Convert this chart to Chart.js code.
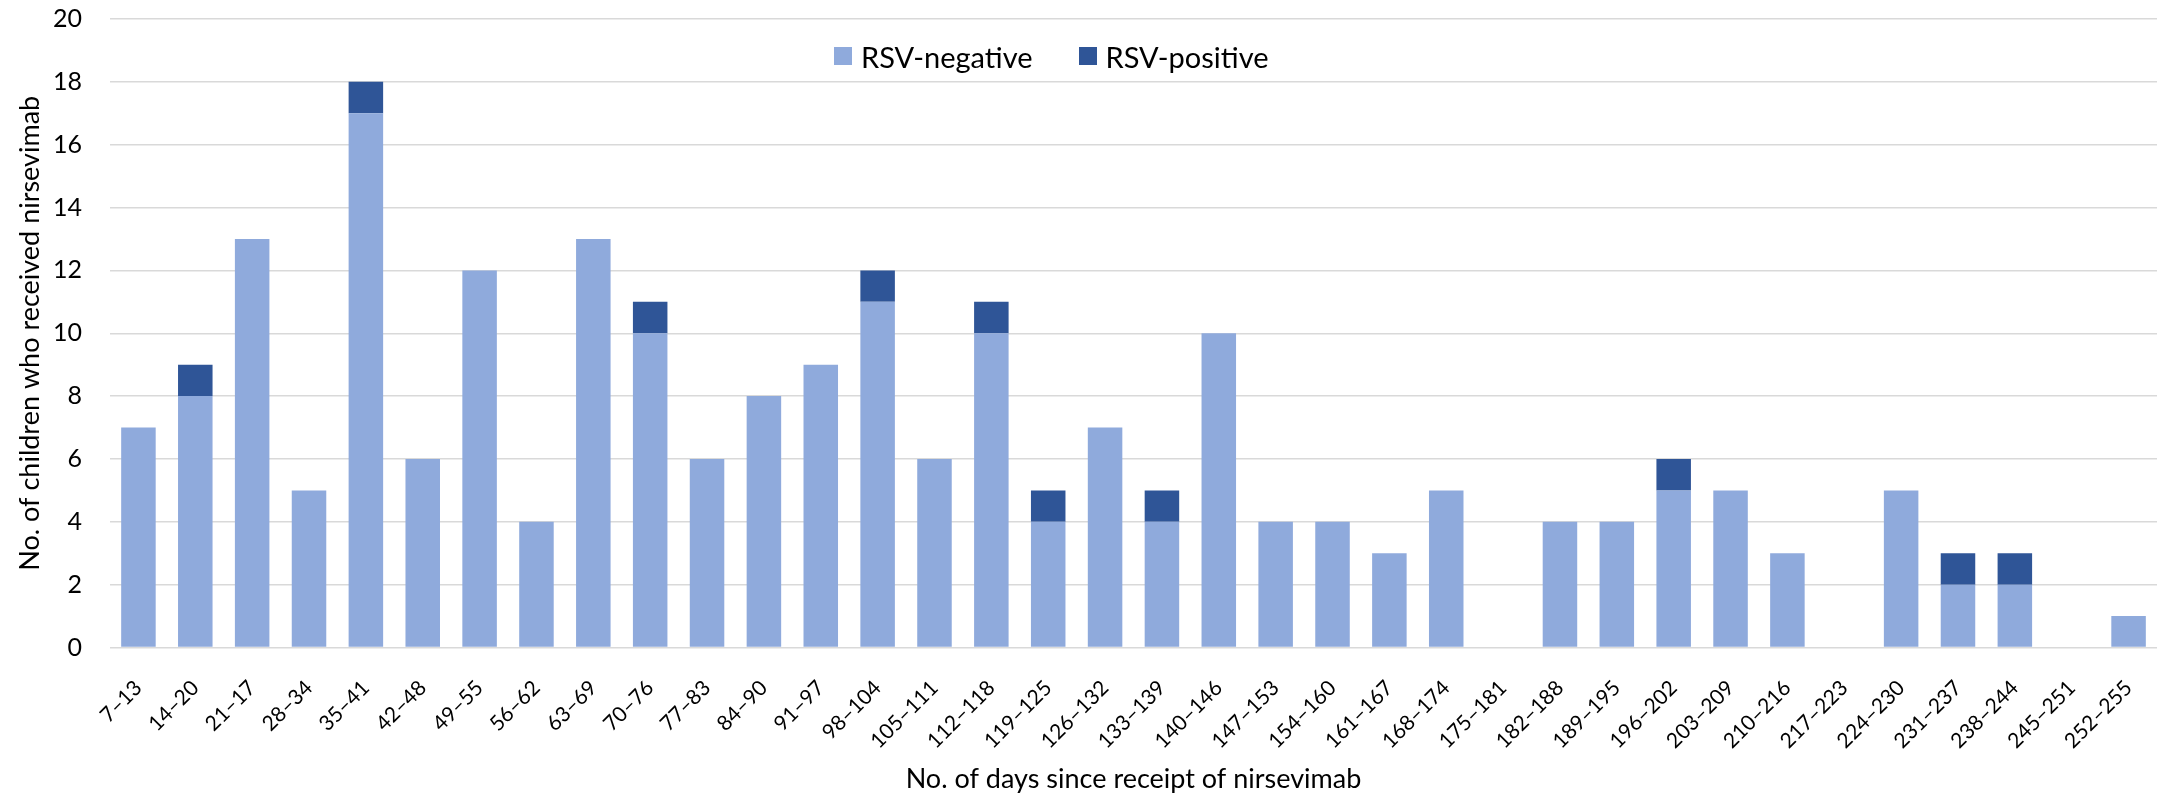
<!DOCTYPE html>
<html>
<head>
<meta charset="utf-8">
<script src="https://cdn.jsdelivr.net/npm/chart.js@4"></script>
<style>
  html, body { margin: 0; padding: 0; background: #fff; }
  #wrap { position: relative; width: 2158px; height: 795px; }
  #legend {
    position: absolute; left: 834px; top: 38px; height: 36px;
    display: flex; align-items: center;
    font-family: Lato, "Open Sans", sans-serif; font-size: 29px; color: #000;
  }
  #legend span.box { display: inline-block; width: 18px; height: 18px; margin-right: 9px; }
  #legend span.item { display: flex; align-items: center; margin-right: 46px; }
</style>
</head>
<body>
<div id="wrap">
  <canvas id="chart" width="2158" height="795"></canvas>
  <div id="legend"></div>
</div>
<script>
const categories = [
  '7–13', '14–20', '21–17', '28–34', '35–41', '42–48', '49–55', '56–62', '63–69',
  '70–76', '77–83', '84–90', '91–97', '98–104', '105–111', '112–118', '119–125',
  '126–132', '133–139', '140–146', '147–153', '154–160', '161–167', '168–174',
  '175–181', '182–188', '189–195', '196–202', '203–209', '210–216', '217–223',
  '224–230', '231–237', '238–244', '245–251', '252–255'
]
const rsvNegative = [
  7, 8, 13, 5, 17, 6, 12, 4, 13, 10, 6, 8, 9, 11, 6, 10, 4, 7,
  4, 10, 4, 4, 3, 5, 0, 4, 4, 5, 5, 3, 0, 5, 2, 2, 0, 1
]
const rsvPositive = [
  0, 1, 0, 0, 1, 0, 0, 0, 0, 1, 0, 0, 0, 1, 0, 1, 1, 0,
  1, 0, 0, 0, 0, 0, 0, 0, 0, 1, 0, 0, 0, 0, 1, 1, 0, 0
]
const yTicks = [0, 2, 4, 6, 8, 10, 12, 14, 16, 18, 20]

const lightBlue = '#8FAADC'
const darkBlue = '#2F5597'
const gridColor = '#D9D9D9'
const fontFamily = 'Lato, "Open Sans", sans-serif'

const datasets = [
  { label: 'RSV-negative', data: rsvNegative, backgroundColor: lightBlue },
  { label: 'RSV-positive', data: rsvPositive, backgroundColor: darkBlue }
]

// html legend, sits inside the plot like the original
const legendEl = document.getElementById('legend')
datasets.forEach(ds => {
  const item = document.createElement('span')
  item.className = 'item'
  item.innerHTML = '<span class="box" style="background:' + ds.backgroundColor + '"></span>' + ds.label
  legendEl.appendChild(item)
})

new Chart(document.getElementById('chart'), {
  type: 'bar',
  data: {
    labels: categories,
    datasets: datasets.map(ds => ({
      ...ds,
      borderWidth: 0,
      categoryPercentage: 1.0,
      barPercentage: 0.607
    }))
  },
  options: {
    responsive: false,
    animation: false,
    layout: { padding: { top: 19, right: 1, bottom: 0, left: 0 } },
    plugins: {
      legend: { display: false },
      tooltip: { enabled: false }
    },
    scales: {
      x: {
        stacked: true,
        grid: { display: false },
        border: { display: false },
        // fixed height so the plot bottom lands where the original has it
        afterFit: scale => {
          scale.height = 147.5
          scale.paddingLeft = 0
          scale.paddingRight = 0
        },
        ticks: {
          color: '#000',
          font: { family: fontFamily, size: 21 },
          minRotation: 45,
          maxRotation: 45,
          autoSkip: false,
          padding: 20
        },
        title: {
          display: true,
          text: 'No. of days since receipt of nirsevimab',
          color: '#000',
          font: { family: fontFamily, size: 27 },
          padding: { top: 0, bottom: 0 }
        }
      },
      y: {
        stacked: true,
        min: 0,
        max: 20,
        afterBuildTicks: axis => { axis.ticks = yTicks.map(v => ({ value: v })) },
        afterFit: scale => {
          scale.width = 110
          scale.paddingTop = 0
          scale.paddingBottom = 0
        },
        grid: { color: gridColor, lineWidth: 1.5, drawTicks: false },
        border: { display: false },
        ticks: {
          color: '#000',
          font: { family: fontFamily, size: 25 },
          padding: 28
        },
        title: {
          display: true,
          text: 'No. of children who received nirsevimab',
          color: '#000',
          font: { family: fontFamily, size: 27 },
          padding: { top: 14, bottom: 0 }
        }
      }
    }
  }
})
</script>
</body>
</html>
